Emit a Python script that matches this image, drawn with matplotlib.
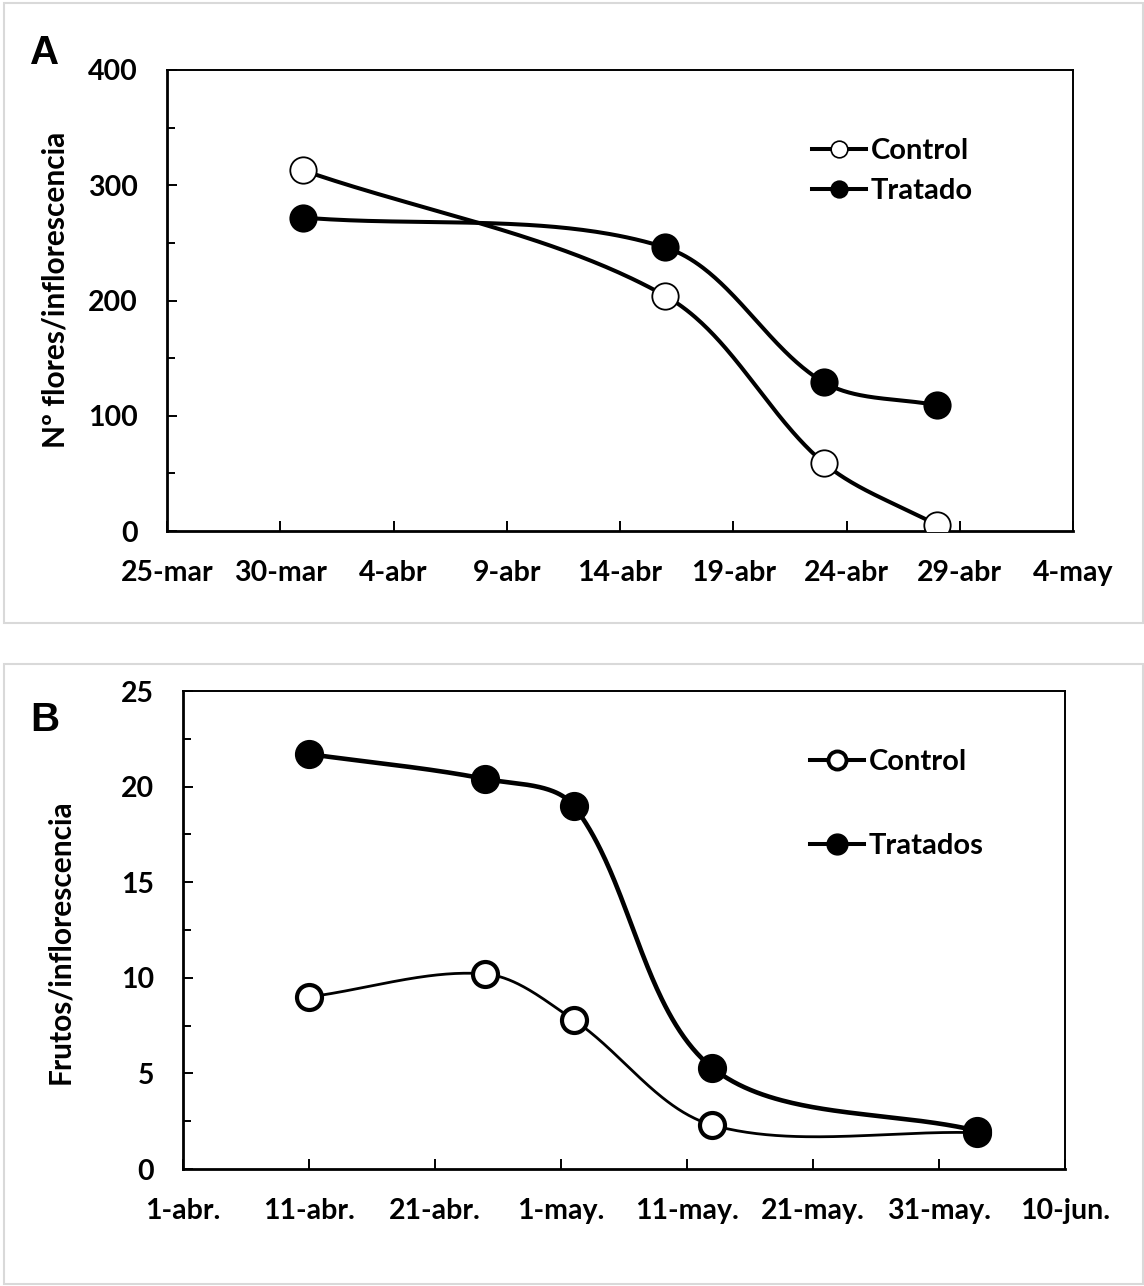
import numpy as np
import matplotlib
matplotlib.use("Agg")
import matplotlib.pyplot as plt
import matplotlib.dates as mdates
from matplotlib.patches import Rectangle
from matplotlib.lines import Line2D
from matplotlib.ticker import MultipleLocator

# ---------------- data ----------------
# Panel A: flowers per inflorescence
a_dates = ['2021-03-31', '2021-04-16', '2021-04-23', '2021-04-28']
a_control = [313, 204, 59, 5]
a_tratado = [272, 246, 129, 109]
a_tick_dates = ['2021-03-25', '2021-03-30', '2021-04-04', '2021-04-09', '2021-04-14',
                '2021-04-19', '2021-04-24', '2021-04-29', '2021-05-04']
a_tick_labels = ['25-mar', '30-mar', '4-abr', '9-abr', '14-abr', '19-abr', '24-abr', '29-abr', '4-may']

# Panel B: fruits per inflorescence
b_dates = ['2021-04-11', '2021-04-25', '2021-05-02', '2021-05-13', '2021-06-03']
b_control = [9.0, 10.2, 7.8, 2.3, 1.9]
b_tratados = [21.7, 20.4, 19.0, 5.3, 2.0]
b_tick_dates = ['2021-04-01', '2021-04-11', '2021-04-21', '2021-05-01', '2021-05-11',
                '2021-05-21', '2021-05-31', '2021-06-10']
b_tick_labels = ['1-abr.', '11-abr.', '21-abr.', '1-may.', '11-may.', '21-may.', '31-may.', '10-jun.']

W, H = 1144, 1286
FONT = 'Lato'
TICK_FS = 20.5
LEG_FS = 21
YLAB_FS = 21.5


def to_num(ds):
    return mdates.date2num(np.array(ds, dtype='datetime64[D]'))


def smooth(ax, x, y, n=80):
    """Excel-like smoothed line: Bezier segments built in display space."""
    P = ax.transData.transform(np.column_stack([x, y]).astype(float))
    m = len(P)
    t = np.linspace(0, 1, n)[:, None]
    out = []
    for i in range(m - 1):
        p0 = P[max(i - 1, 0)]
        p1 = P[i]
        p2 = P[i + 1]
        p3 = P[min(i + 2, m - 1)]
        d01 = np.hypot(*(p1 - p0))
        d12 = np.hypot(*(p2 - p1))
        d23 = np.hypot(*(p3 - p2))
        f1 = d12 / (d01 + d12) / 3.0
        f2 = d12 / (d12 + d23) / 3.0
        c1 = p1 + (p2 - p0) * f1
        c2 = p2 - (p3 - p1) * f2
        b = ((1 - t) ** 3) * p1 + 3 * ((1 - t) ** 2) * t * c1 + 3 * (1 - t) * t ** 2 * c2 + t ** 3 * p2
        out.append(b if i == 0 else b[1:])
    B = ax.transData.inverted().transform(np.vstack(out))
    return B[:, 0], B[:, 1]


def px_axes(l, t, r, b):
    return [l / W, 1 - b / H, (r - l) / W, (b - t) / H]


fig = plt.figure(figsize=(W / 100, H / 100), dpi=100)

# panel frames
for (l, t, r, b) in [(4, 3, 1143, 623), (4, 664, 1143, 1284)]:
    fig.patches.append(Rectangle((l / W, 1 - b / H), (r - l) / W, (b - t) / H,
                                 transform=fig.transFigure, fill=False,
                                 edgecolor='#d9d9d9', linewidth=1.5))


def style_axes(ax):
    for s in ['left', 'bottom']:
        ax.spines[s].set_linewidth(2.0)
    for s in ['top', 'right']:
        ax.spines[s].set_linewidth(1.4)
    ax.tick_params(axis='both', which='major', direction='in', length=7, width=1.4,
                   labelsize=TICK_FS, top=False, right=False)
    ax.tick_params(axis='y', which='minor', direction='in', length=6, width=1.4, right=False)
    ax.tick_params(axis='y', which='major', pad=21)
    ax.tick_params(axis='x', which='major', pad=21)
    for lab in ax.get_xticklabels() + ax.get_yticklabels():
        lab.set_fontfamily(FONT)
        lab.set_fontweight('bold')


# ---------------- Panel A ----------------
axA = fig.add_axes(px_axes(167, 70, 1073, 531))
tA = to_num(a_tick_dates)
axA.set_xlim(tA[0], tA[-1])
axA.set_ylim(0, 400)
xa = to_num(a_dates)
for vals, face in [(a_tratado, 'black'), (a_control, 'white')]:
    sx, sy = smooth(axA, xa, vals)
    axA.plot(sx, sy, color='black', lw=2.9, solid_capstyle='round', zorder=2)
    axA.plot(xa, vals, ls='none', marker='o', ms=19, mfc=face, mec='black', mew=1.3, zorder=3)
axA.set_xticks(tA)
axA.set_xticklabels(a_tick_labels)
axA.yaxis.set_major_locator(MultipleLocator(100))
axA.yaxis.set_minor_locator(MultipleLocator(50))
style_axes(axA)

hA = [Line2D([], [], color='black', lw=2.9, marker='o', ms=12, mfc='white', mec='black', mew=1.2),
      Line2D([], [], color='black', lw=2.9, marker='o', ms=12, mfc='black', mec='black', mew=1.2)]
axA.legend(hA, ['Control', 'Tratado'], loc='upper left',
           bbox_to_anchor=(812 / W, 1 - 138 / H), bbox_transform=fig.transFigure,
           frameon=False, borderpad=0, borderaxespad=0, handlelength=1.85,
           handletextpad=0.17, labelspacing=0.48,
           prop={'family': FONT, 'weight': 'bold', 'size': LEG_FS})

fig.text(55 / W, 1 - 290 / H, 'Nº flores/inflorescencia', rotation=90, ha='center', va='center',
         fontsize=YLAB_FS, fontweight='bold', family=FONT)
fig.text(45 / W, 1 - 53 / H, 'A', ha='center', va='center', fontsize=29, fontweight='bold',
         family='Liberation Sans')

# ---------------- Panel B ----------------
axB = fig.add_axes(px_axes(183, 691, 1065, 1169))
tB = to_num(b_tick_dates)
axB.set_xlim(tB[0], tB[-1])
axB.set_ylim(0, 25)
xb = to_num(b_dates)
sx, sy = smooth(axB, xb, b_control)
axB.plot(sx, sy, color='black', lw=2.0, zorder=2)
sx, sy = smooth(axB, xb, b_tratados)
axB.plot(sx, sy, color='black', lw=3.3, zorder=2)
axB.plot(xb, b_control, ls='none', marker='o', ms=18, mfc='white', mec='black', mew=3, zorder=3)
axB.plot(xb, b_tratados, ls='none', marker='o', ms=20, mfc='black', mec='black', mew=1, zorder=4)
axB.set_xticks(tB)
axB.set_xticklabels(b_tick_labels)
axB.yaxis.set_major_locator(MultipleLocator(5))
axB.yaxis.set_minor_locator(MultipleLocator(2.5))
style_axes(axB)

hB = [Line2D([], [], color='black', lw=2.9, marker='o', ms=13, mfc='white', mec='black', mew=2.8),
      Line2D([], [], color='black', lw=2.9, marker='o', ms=15, mfc='black', mec='black', mew=1)]
axB.legend(hB, ['Control', 'Tratados'], loc='upper left',
           bbox_to_anchor=(810 / W, 1 - 749 / H), bbox_transform=fig.transFigure,
           frameon=False, borderpad=0, borderaxespad=0, handlelength=1.85,
           handletextpad=0.17, labelspacing=2.0,
           prop={'family': FONT, 'weight': 'bold', 'size': LEG_FS})

fig.text(60 / W, 1 - 942 / H, 'Frutos/inflorescencia', rotation=90, ha='center', va='center',
         fontsize=YLAB_FS, fontweight='bold', family=FONT)
fig.text(45 / W, 1 - 720 / H, 'B', ha='center', va='center', fontsize=29, fontweight='bold',
         family='Liberation Sans')

fig.savefig('out.png', dpi=100)
